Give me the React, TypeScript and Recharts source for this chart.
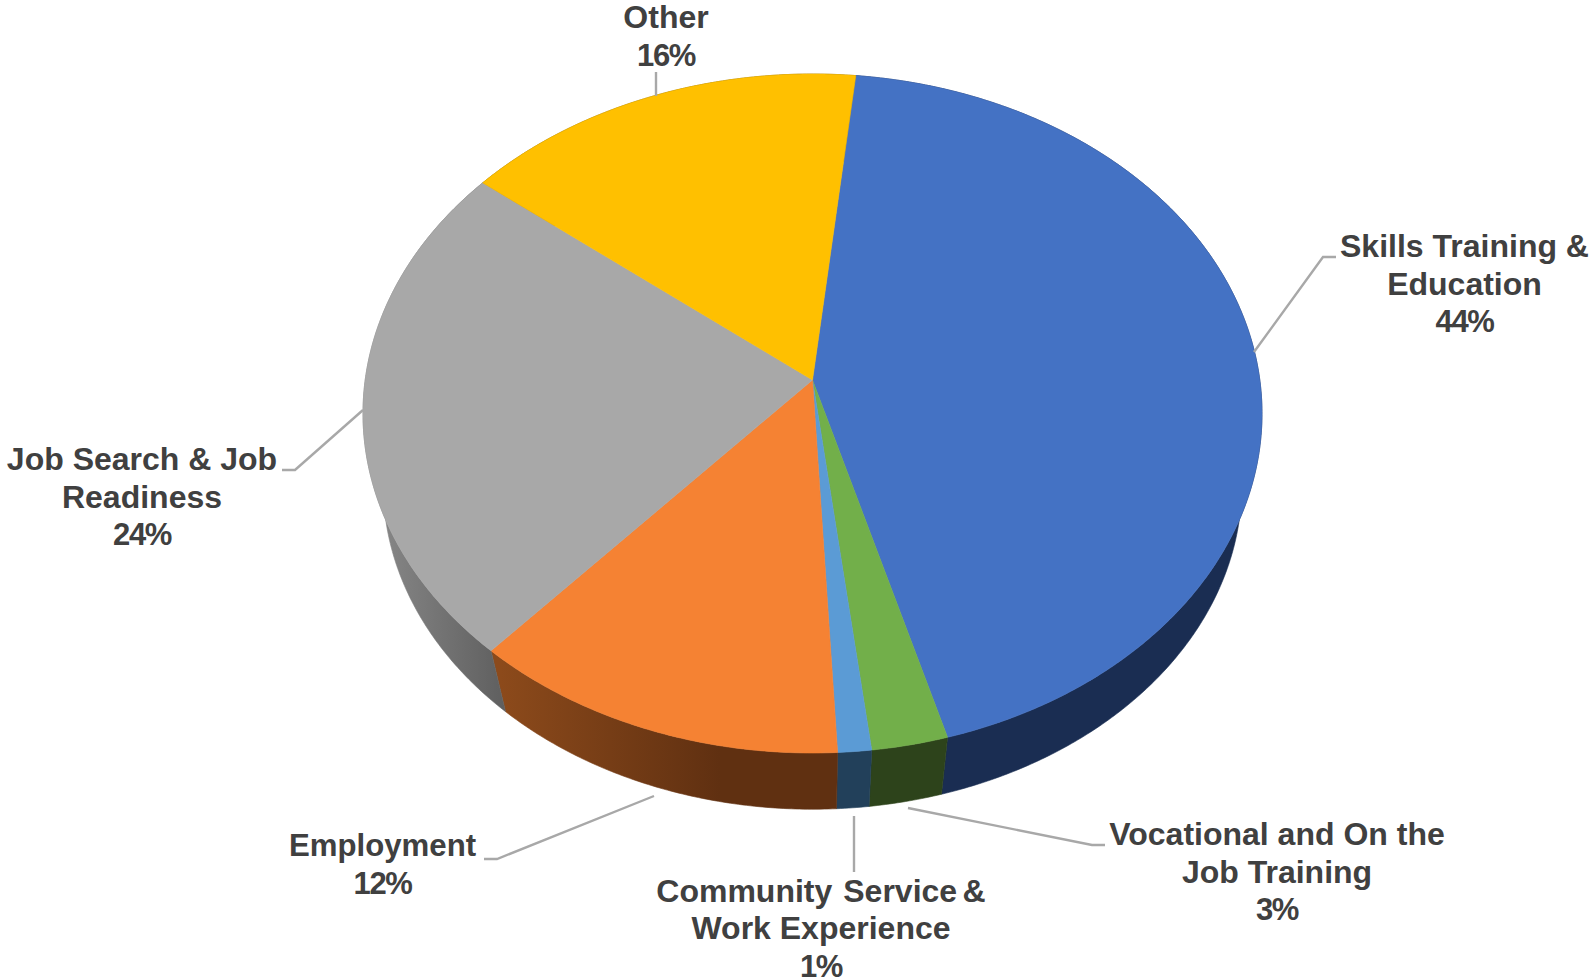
import { Pie, PieChart } from 'recharts'

const categories = [
  'Skills Training & Education',
  'Vocational and On the Job Training',
  'Community  Service & Work Experience',
  'Employment',
  'Job Search & Job Readiness',
  'Other',
]
const shares = [43.9, 2.5, 1.1, 12.4, 24.1, 16]
const shareLabels = ['44%', '3%', '1%', '12%', '24%', '16%']
const labelRows = [
  ['Skills Training &', 'Education'],
  ['Vocational and On the', 'Job Training'],
  ['Community  Service &', 'Work Experience'],
  ['Employment'],
  ['Job Search & Job', 'Readiness'],
  ['Other'],
]
const topColors = ['#4472C4', '#72AF4A', '#5B9BD5', '#F58233', '#A8A8A8', '#FFC000']
const wallColors = ['#1A2D52', '#2D431B', '#22405A', 'url(#orangeWall)', 'url(#grayWall)', '#806000']

// where each label sits and the bend of its leader line
const labelBox = [
  { x: 1464.5, y: 257, line: [[1254, 352], [1323, 257], [1336, 257]] },
  { x: 1277, y: 845, line: [[908, 808], [1092, 845], [1105, 845]] },
  { x: 821, y: 901.5, line: [[854, 816], [854, 872]], wordSpacing: -3.4 },
  { x: 382.5, y: 856, line: [[654, 796], [497, 859], [484, 859]], fontSize: 31.2 },
  { x: 142, y: 470, line: [[363, 410], [295, 470], [282, 470]] },
  { x: 666, y: 28, line: [[656, 96], [656, 72]] },
]

const W = 1590
const H = 980
const CX = 812.5
const CY = 413.5
const RX = 449.5
const SQUASH = 339.5 / 449.5
const TILT = 0.0987 // perspective shift of the pie's apex towards the back
const DEPTH = 71.5
const SHRINK = 0.955
const LINE_H = 37.6

function project(angle: number, cx: number, cy: number, r: number, drop = 0, scale = 1) {
  const t = ((90 - angle) * Math.PI) / 180
  const u = Math.sin(t)
  const v = Math.cos(t)
  const den = 1 + TILT * v
  const px = (u * Math.sqrt(1 - TILT * TILT)) / den
  const py = (v + TILT) / den
  return [cx + r * scale * px, cy + drop - r * SQUASH * scale * py]
}

function arcPoints(props: any, drop = 0, scale = 1) {
  const { startAngle, endAngle, cx, cy, outerRadius } = props
  const steps = Math.max(2, Math.ceil(Math.abs(endAngle - startAngle) * 2))
  const pts: number[][] = []
  for (let i = 0; i <= steps; i++) {
    const a = startAngle + ((endAngle - startAngle) * i) / steps
    pts.push(project(a, cx, cy, outerRadius, drop, scale))
  }
  return pts
}

function toPath(pts: number[][]) {
  return 'M' + pts.map((p) => p[0].toFixed(2) + ' ' + p[1].toFixed(2)).join('L') + 'Z'
}

function TopFace(props: any) {
  const { cx, cy, outerRadius, fill } = props
  const apex = [cx, cy - outerRadius * SQUASH * TILT]
  return <path d={toPath([apex, ...arcPoints(props)])} fill={fill} stroke={fill} strokeWidth={0.6} />
}

function SideWall(props: any) {
  const top = arcPoints(props)
  const bottom = arcPoints(props, DEPTH, SHRINK).reverse()
  return <path d={toPath([...top, ...bottom])} fill={props.fill} stroke={props.fill} strokeWidth={0.6} />
}

function LeaderLine({ index }: any) {
  const pts = labelBox[index].line.map((p) => p.join(',')).join(' ')
  return <polyline points={pts} fill="none" stroke="#A8A8A8" strokeWidth={2.4} />
}

function SliceLabel({ index }: any) {
  const box = labelBox[index]
  const rows = labelRows[index]
  return (
    <text
      x={box.x}
      y={box.y}
      textAnchor="middle"
      fill="#404040"
      fontFamily="'Liberation Sans', Arial, sans-serif"
      fontWeight={700}
      fontSize={box.fontSize ?? 32}
      style={{ whiteSpace: 'pre' }}
    >
      {rows.map((row, i) => (
        <tspan key={i} x={box.x} y={box.y + i * LINE_H} wordSpacing={i === 0 ? box.wordSpacing : undefined}>
          {row}
        </tspan>
      ))}
      <tspan x={box.x} y={box.y + rows.length * LINE_H} fontSize={31} letterSpacing={-1.4}>
        {shareLabels[index]}
      </tspan>
    </text>
  )
}

const topRows = categories.map((name, i) => ({ name, value: shares[i], fill: topColors[i] }))
const wallRows = categories.map((name, i) => ({ name, value: shares[i], fill: wallColors[i] }))

export default function App() {
  return (
    <div style={{ position: 'absolute', left: 0, top: 0, width: W, height: H, background: '#fff' }}>
      <PieChart width={W} height={H} margin={{ top: 0, right: 0, bottom: 0, left: 0 }}>
        <defs>
          <linearGradient id="orangeWall" gradientUnits="userSpaceOnUse" x1={500} y1={0} x2={720} y2={0}>
            <stop offset="0%" stopColor="#8C4A1B" />
            <stop offset="100%" stopColor="#603011" />
          </linearGradient>
          <linearGradient id="grayWall" gradientUnits="userSpaceOnUse" x1={385} y1={0} x2={505} y2={0}>
            <stop offset="0%" stopColor="#858585" />
            <stop offset="100%" stopColor="#5F5F5F" />
          </linearGradient>
        </defs>
        <Pie
          data={wallRows}
          dataKey="value"
          cx={CX}
          cy={CY}
          innerRadius={0}
          outerRadius={RX}
          startAngle={83.9}
          endAngle={-276.1}
          stroke="none"
          shape={SideWall}
          isAnimationActive={false}
          label={false}
          labelLine={false}
        />
        <Pie
          data={topRows}
          dataKey="value"
          cx={CX}
          cy={CY}
          innerRadius={0}
          outerRadius={RX}
          startAngle={83.9}
          endAngle={-276.1}
          stroke="none"
          shape={TopFace}
          isAnimationActive={false}
          label={SliceLabel}
          labelLine={LeaderLine}
        />
      </PieChart>
    </div>
  )
}
